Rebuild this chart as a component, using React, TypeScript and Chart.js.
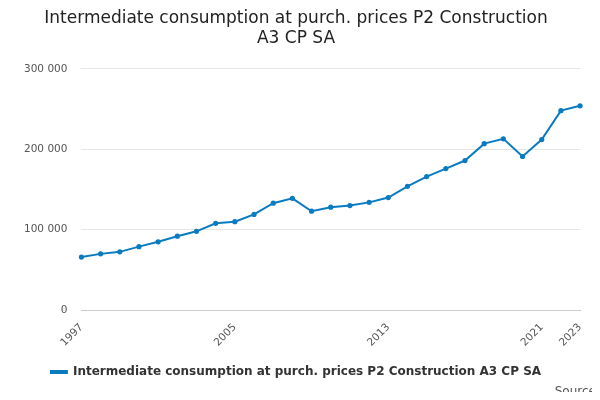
import React, { useEffect, useRef } from "react";
import { Chart, registerables } from "chart.js";
Chart.register(...registerables);

const years = Array.from({ length: 27 }, (_, i) => String(1997 + i));
const shownYears = ["1997", "2005", "2013", "2021", "2023"];
const values = [66000, 70000, 72500, 79000, 85000, 92000, 98000, 108000, 110000, 119000, 133000, 139000, 123000, 128000, 130000, 134000, 140000, 154000, 166000, 176000, 186000, 207000, 213000, 191000, 212000, 248000, 254000];
const seriesName = "Intermediate consumption at purch. prices P2 Construction A3 CP SA";

export default function App() {
  const ref = useRef<HTMLCanvasElement>(null);
  useEffect(() => {
    const font = "'DejaVu Sans', sans-serif";
    const chart = new Chart(ref.current!, {
      type: "line",
      data: {
        labels: years,
        datasets: [{
          label: seriesName,
          data: values,
          borderColor: "#0a7bc1",
          backgroundColor: "#0a7bc1",
          borderWidth: 2,
          pointRadius: 1.6,
          tension: 0,
        }],
      },
      options: {
        animation: false,
        responsive: false,
        layout: { padding: { left: 2, right: 10, top: 0, bottom: 0 } },
        plugins: {
          title: {
            display: true,
            text: ["Intermediate consumption at purch. prices P2 Construction", "A3 CP SA"],
            font: { family: font, size: 17, weight: "normal" },
            color: "#222",
            padding: { top: 0, bottom: 20 },
          },
          legend: {
            position: "bottom",
            labels: {
              font: { family: font, size: 12, weight: "bold" },
              color: "#333",
              boxWidth: 16,
              boxHeight: 2,
              padding: 14,
            },
          },
        },
        scales: {
          x: {
            grid: { display: false, drawTicks: true },
            border: { color: "#ccc" },
            ticks: {
              autoSkip: false,
              maxRotation: 45,
              minRotation: 45,
              color: "#555",
              font: { family: font, size: 10.5 },
              callback: (_v: any, i: number) => (shownYears.includes(years[i]) ? years[i] : ""),
            },
          },
          y: {
            min: 0,
            max: 300000,
            grid: { color: "#e6e6e6", drawTicks: false },
            border: { display: false },
            ticks: {
              stepSize: 100000,
              padding: 14,
              color: "#555",
              font: { family: font, size: 10.5 },
              callback: (v: any) => (v === 0 ? "0" : Number(v).toLocaleString("en-US").replace(/,/g, " ")),
            },
          },
        },
      },
    });
    return () => chart.destroy();
  }, []);
  return (
    <div style={{ position: "relative", width: 584, height: 384 }}>
      <canvas ref={ref} width={584} height={380} />
      <div style={{ position: "absolute", right: -8, top: 376, fontFamily: "'DejaVu Sans', sans-serif", fontSize: 12, color: "#555" }}>Source:</div>
    </div>
  );
}
